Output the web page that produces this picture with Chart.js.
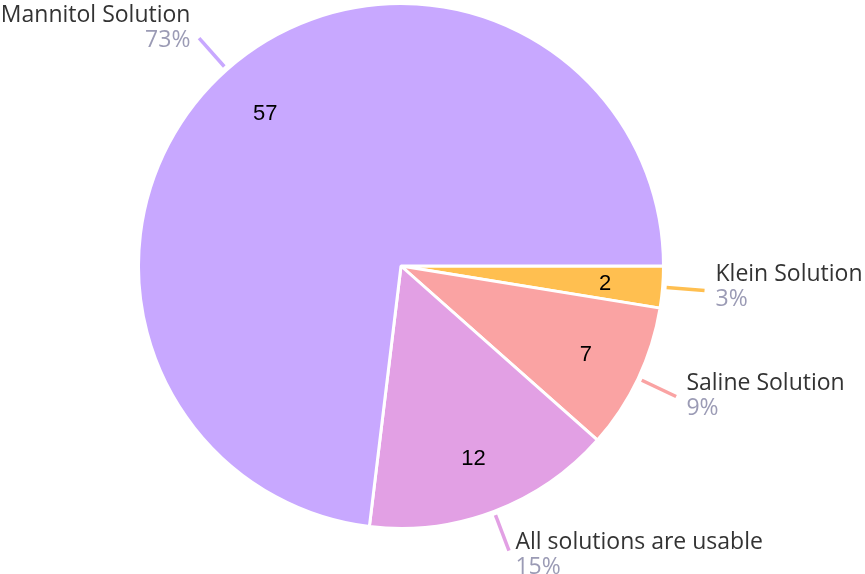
<!DOCTYPE html>
<html>
<head>
<meta charset="utf-8">
<script src="https://cdn.jsdelivr.net/npm/chart.js@4"></script>
<style>
  html, body { margin: 0; padding: 0; background: #fff; }
  #wrap { width: 865px; height: 574px; position: relative; }
</style>
</head>
<body>
<div id="wrap"><canvas id="pie"></canvas></div>
<script>
// categories clockwise, starting at 3 o'clock
const labels = ['Klein Solution', 'Saline Solution', 'All solutions are usable', 'Mannitol Solution'];
const values = [2, 7, 12, 57];
const colors = ['#ffbf50', '#faa3a3', '#e2a0e4', '#c8a8ff'];

const total = values.reduce((a, b) => a + b, 0);
const FONT = '"Open Sans", Lato, sans-serif';

// ── etichette: valore dentro, nome + % fuori con linea guida ──
const labelPlugin = {
  id: 'pieLabels',
  afterDatasetsDraw(chart) {
    const ctx = chart.ctx;
    const meta = chart.getDatasetMeta(0);
    meta.data.forEach((arc, i) => {
      const { x, y, startAngle, endAngle, outerRadius } = arc.getProps(['x', 'y', 'startAngle', 'endAngle', 'outerRadius'], true);
      const mid = (startAngle + endAngle) / 2;
      const cos = Math.cos(mid), sin = Math.sin(mid);

      // valore interno
      ctx.save();
      ctx.font = '22px "Liberation Sans", Arial, sans-serif';
      ctx.fillStyle = '#000';
      ctx.textAlign = 'center';
      ctx.textBaseline = 'middle';
      const r1 = outerRadius * 0.78;
      ctx.fillText(values[i], x + cos * r1, y + sin * r1 + 1);

      // linea guida
      const a = outerRadius + 4, b = outerRadius + 42;
      const ex = x + cos * b, ey = y + sin * b;
      ctx.strokeStyle = colors[i];
      ctx.lineWidth = 3.5;
      ctx.beginPath();
      ctx.moveTo(x + cos * a, y + sin * a);
      ctx.lineTo(ex, ey);
      ctx.stroke();

      // testo esterno
      const right = cos >= 0;
      const gap = 4 + 7 * Math.abs(cos);
      const tx = right ? ex + gap : ex - gap;
      const cy = ey - 4 + 8.5 * sin;
      ctx.textAlign = right ? 'left' : 'right';
      ctx.font = '23px ' + FONT;
      ctx.fillStyle = '#333333';
      ctx.fillText(labels[i], tx, cy - 12.5);
      ctx.fillStyle = '#9b9bb5';
      ctx.fillText(Math.round(values[i] / total * 100) + '%', tx, cy + 12.5);
      ctx.restore();
    });
  }
};

new Chart(document.getElementById('pie').getContext('2d'), {
  type: 'pie',
  data: {
    labels,
    datasets: [{
      data: values,
      backgroundColor: colors,
      borderColor: '#fff',
      borderWidth: 3,
      hoverOffset: 0,
    }]
  },
  options: {
    responsive: true,
    maintainAspectRatio: false,
    animation: false,
    rotation: 90,
    layout: { padding: { top: 2, bottom: 44, left: 137, right: 200 } },
    plugins: {
      legend: { display: false },
      tooltip: { enabled: false },
    }
  },
  plugins: [labelPlugin]
});
</script>
</body>
</html>
